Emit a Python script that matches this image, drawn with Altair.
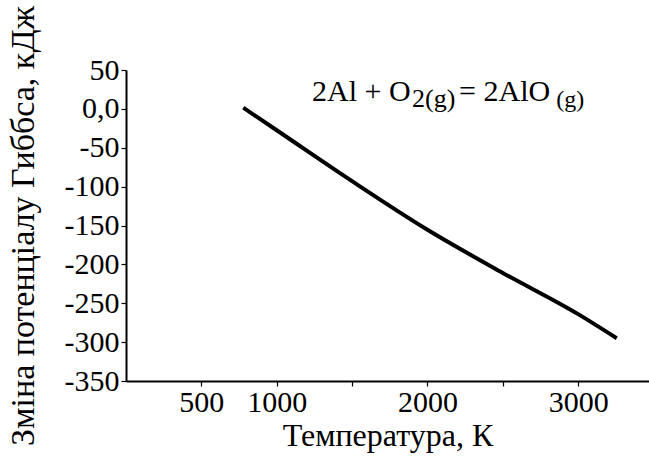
import altair as alt
import pandas as pd

# Line data
temps = [778, 1000, 1500, 2000, 2500, 3000, 3256]
gibbs = [1.5, -27.5, -93, -155.5, -211, -264, -295]

# Axis ticks
x_ticks = [500, 1000, 1500, 2000, 2500, 3000]
y_ticks = [50, 0, -50, -100, -150, -200, -250, -300, -350]

# Reaction annotation pieces (text, T, G, font size)
ann_text = ["2Al + O", "2(g)", "= 2AlO", "(g)"]
ann_T = [1234, 1898, 2210, 2855]
ann_G = [10.1, 2.0, 10.1, 2.0]
ann_size = [30, 26, 30, 24]

FONT = "Liberation Serif"

line_df = pd.DataFrame({"T": temps, "G": gibbs})
ann_df = pd.DataFrame({"txt": ann_text, "T": ann_T, "G": ann_G, "fs": ann_size})

x_scale = alt.Scale(domain=[0, 3470], nice=False, zero=False)
y_scale = alt.Scale(domain=[-350, 50], nice=False, zero=False)

x_axis = alt.Axis(
    title="Температура, К",
    values=x_ticks, tickCount=30,
    labelExpr="(datum.value == 1500 || datum.value == 2500) ? '' : '' + datum.value",
    grid=False, labelOverlap=False,
    domainColor="black", domainWidth=2,
    tickColor="black", tickWidth=1.2, tickSize=5,
    labelFont=FONT, labelFontSize=30, labelColor="black", labelPadding=1,
    titleFont=FONT, titleFontSize=32, titleFontWeight="normal", titleColor="black",
    titlePadding=3,
)
y_axis = alt.Axis(
    title="Зміна потенціалу Гиббса, кДж",
    values=y_ticks, tickCount=30,
    labelExpr="datum.value == 0 ? '0,0' : '' + datum.value",
    grid=False, labelOverlap=False,
    domainColor="black", domainWidth=2,
    tickColor="black", tickWidth=1.2, tickSize=5,
    labelFont=FONT, labelFontSize=30, labelColor="black", labelPadding=2,
    titleFont=FONT, titleFontSize=34, titleFontWeight="normal", titleColor="black",
    titlePadding=24,
)

line = alt.Chart(line_df).mark_line(
    color="black", strokeWidth=4, strokeCap="butt", interpolate="monotone"
).encode(
    x=alt.X("T:Q", scale=x_scale, axis=x_axis),
    y=alt.Y("G:Q", scale=y_scale, axis=y_axis),
)

ann = alt.Chart(ann_df).mark_text(
    font=FONT, color="black", align="left", baseline="alphabetic"
).encode(
    x=alt.X("T:Q", scale=x_scale),
    y=alt.Y("G:Q", scale=y_scale),
    text="txt:N",
    size=alt.Size("fs:Q", scale=None, legend=None),
)

chart = alt.layer(line, ann).properties(
    width=523,
    height=311,
    autosize="none",
    padding={"left": 126, "top": 70, "right": 0, "bottom": 75},
    background="white",
).configure_view(stroke=None)

chart.save("out.html", embed_options={"renderer": "svg", "actions": False})
